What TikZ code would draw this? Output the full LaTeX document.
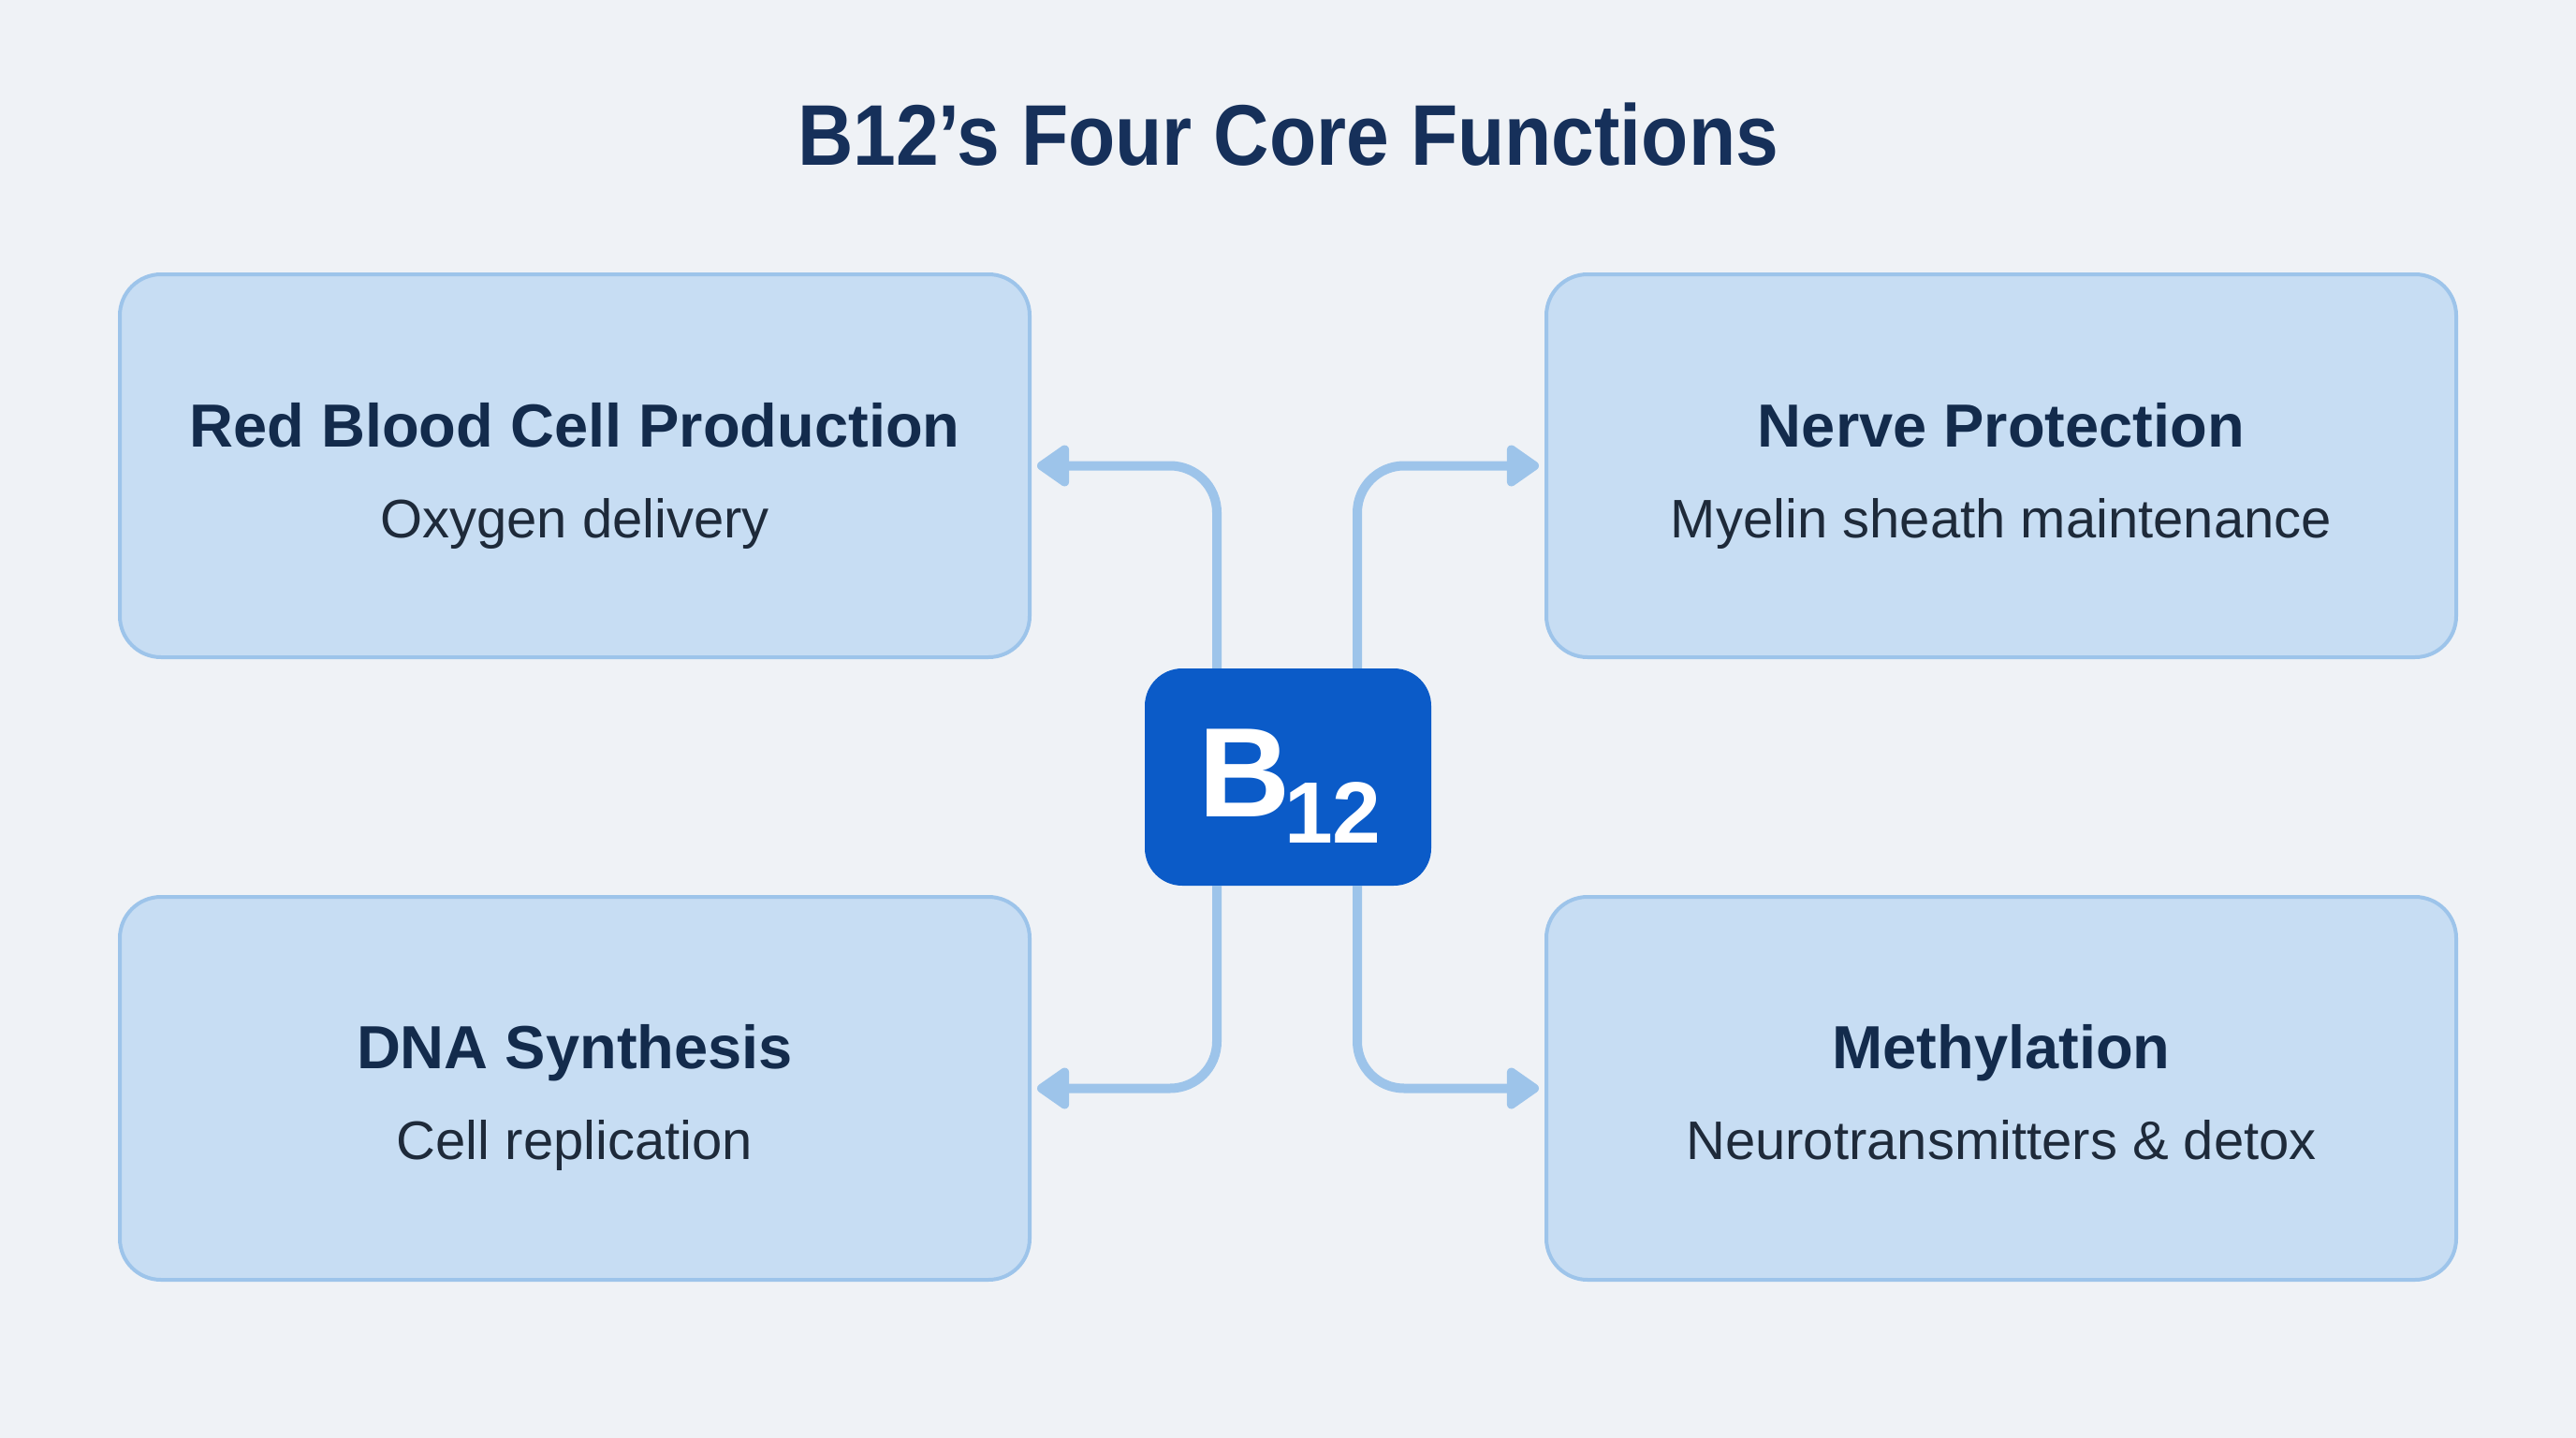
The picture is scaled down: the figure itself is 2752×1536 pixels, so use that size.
\documentclass[tikz,border=0pt]{standalone}
\usepackage{fontspec}
\setmainfont{Liberation Sans}
\usetikzlibrary{arrows.meta}
\definecolor{bg}{HTML}{EFF2F6}
\definecolor{boxfill}{HTML}{C7DDF3}
\definecolor{boxline}{HTML}{9DC4EA}
\definecolor{conncol}{HTML}{9DC4EA}
\definecolor{centerblue}{HTML}{0B5BC8}
\definecolor{titlecol}{HTML}{16305A}
\definecolor{headcol}{HTML}{132B4C}
\definecolor{subcol}{HTML}{1E2A3A}
\tikzset{
  funcbox/.style={draw=boxline, line width=4pt, fill=boxfill, rounded corners=44pt,
    minimum width=972pt, minimum height=409pt, inner sep=0pt},
  headtxt/.style={anchor=base, text=headcol, font=\fontsize{65}{65}\selectfont\bfseries},
  subtxt/.style={anchor=base, text=subcol, font=\fontsize{58}{58}\selectfont},
  conn/.style={draw=conncol, line width=10pt, rounded corners=50pt,
    -{Triangle[length=38pt, width=50pt, round]}, shorten >=6pt},
}
\begin{document}
\begin{tikzpicture}[x=1pt, y=-1pt]
\useasboundingbox (0,0) rectangle (2752,1536);
\fill[bg] (0,0) rectangle (2752,1536);
\node[anchor=base, text=titlecol, font=\fontsize{92}{92}\selectfont\bfseries, xscale=0.894, transform shape] (title) at (1376,176) {B12’s Four Core Functions};
% boxes
\node[funcbox] (rbc) at (614,497.5) {};
\node[funcbox] (nerve) at (2138,497.5) {};
\node[funcbox] (dna) at (614,1162.5) {};
\node[funcbox] (meth) at (2138,1162.5) {};
\node[headtxt] (rbch) at (614,477) {Red Blood Cell Production};
\node[subtxt] (rbcs) at (614,574) {Oxygen delivery};
\node[headtxt] (nerveh) at (2138,477) {Nerve Protection};
\node[subtxt] (nerves) at (2138,574) {Myelin sheath maintenance};
\node[headtxt] (dnah) at (614,1141) {DNA Synthesis};
\node[subtxt] (dnas) at (614,1238) {Cell replication};
\node[headtxt] (methh) at (2138,1141) {Methylation};
\node[subtxt] (meths) at (2138,1238) {Neurotransmitters \& detox};
% centre
\node[fill=centerblue, rounded corners=40pt, minimum width=306pt, minimum height=232pt, inner sep=0pt] (b12) at (1376,830) {};
\node[anchor=base west, text=white, font=\fontsize{136}{136}\selectfont\bfseries, inner sep=0pt] (bl) at (1280,872) {B};
\node[anchor=base west, text=white, font=\fontsize{93}{93}\selectfont\bfseries, inner sep=0pt] (bn) at (1372,900) {12};
% connectors
\draw[conn] ([xshift=-76pt]b12.north) |- (rbc.east);
\draw[conn] ([xshift=74pt]b12.north) |- (nerve.west);
\draw[conn] ([xshift=-76pt]b12.south) |- (dna.east);
\draw[conn] ([xshift=74pt]b12.south) |- (meth.west);
\end{tikzpicture}
\end{document}
